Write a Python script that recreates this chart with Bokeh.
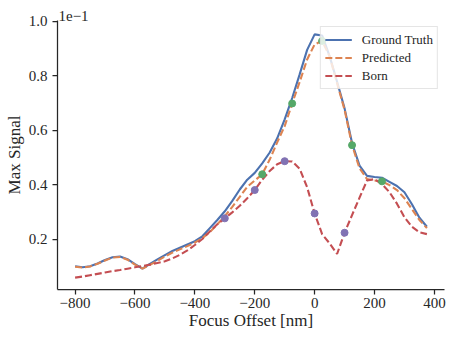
from bokeh.plotting import figure
from bokeh.models import Range1d, FixedTicker, Legend, LegendItem, Title
from bokeh.embed import file_html
from bokeh.resources import INLINE

# ---------------- data ----------------
focus_offset = [-800, -775, -750, -725, -700, -675, -650, -625, -600, -575,
                -550, -525, -500, -475, -450, -425, -400, -375, -350, -325,
                -300, -275, -250, -225, -200, -175, -150, -125, -100, -75,
                -50, -25, 0, 25, 50, 75, 100, 125, 150, 175,
                200, 225, 250, 275, 300, 325, 350, 375]

ground_truth = [0.100, 0.096, 0.100, 0.110, 0.123, 0.133, 0.136, 0.126, 0.108, 0.091,
                0.109, 0.125, 0.141, 0.156, 0.168, 0.180, 0.192, 0.210, 0.240, 0.270,
                0.302, 0.340, 0.382, 0.418, 0.443, 0.478, 0.518, 0.570, 0.640, 0.718,
                0.805, 0.895, 0.952, 0.948, 0.872, 0.778, 0.680, 0.553, 0.470, 0.432,
                0.428, 0.425, 0.410, 0.395, 0.372, 0.328, 0.278, 0.245]

predicted = [0.098, 0.095, 0.099, 0.109, 0.121, 0.132, 0.134, 0.124, 0.106, 0.091,
             0.105, 0.120, 0.136, 0.150, 0.162, 0.174, 0.187, 0.203, 0.226, 0.254,
             0.284, 0.318, 0.355, 0.392, 0.415, 0.438, 0.492, 0.555, 0.615, 0.698,
             0.777, 0.860, 0.915, 0.928, 0.872, 0.772, 0.675, 0.545, 0.460, 0.420,
             0.415, 0.412, 0.398, 0.380, 0.350, 0.310, 0.270, 0.240]

born = [0.058, 0.062, 0.067, 0.072, 0.077, 0.082, 0.086, 0.091, 0.096, 0.101,
        0.106, 0.112, 0.118, 0.129, 0.142, 0.158, 0.178, 0.200, 0.228, 0.254,
        0.276, 0.298, 0.322, 0.350, 0.380, 0.418, 0.450, 0.475, 0.486, 0.485,
        0.458, 0.390, 0.294, 0.218, 0.184, 0.145, 0.223, 0.288, 0.352, 0.415,
        0.420, 0.402, 0.372, 0.330, 0.280, 0.245, 0.225, 0.218]

green_x = [-175, -75, 25, 125, 225]     # samples on Predicted
purple_x = [-300, -200, -100, 0, 100]   # samples on Born

x_ticks = [-800, -600, -400, -200, 0, 200, 400]
x_tick_labels = ["\u2212800", "\u2212600", "\u2212400", "\u2212200", "0", "200", "400"]
y_ticks = [0.2, 0.4, 0.6, 0.8, 1.0]
y_tick_labels = ["0.2", "0.4", "0.6", "0.8", "1.0"]

series_labels = ["Ground Truth", "Predicted", "Born"]
offset_text = "1e\u22121"
x_title = "Focus Offset [nm]"
y_title = "Max Signal"

# ---------------- derived marker positions ----------------
green_y = [predicted[focus_offset.index(v)] for v in green_x]
purple_y = [born[focus_offset.index(v)] for v in purple_x]

# ---------------- figure ----------------
FONT = "Liberation Serif"
INK = "#262626"

x_pad = (max(focus_offset) - min(focus_offset)) * 0.05
x0, x1 = min(focus_offset) - x_pad, max(focus_offset) + x_pad
y0, y1 = 0.0145, 1.003

p = figure(width=453, height=339, output_backend="svg", toolbar_location=None,
           x_range=Range1d(x0, x1), y_range=Range1d(y0, y1),
           min_border_left=57, min_border_right=9, min_border_top=20,
           min_border_bottom=50)
p.outline_line_color = None
p.grid.visible = False
p.background_fill_color = "white"
p.border_fill_color = "white"

# offset text ("1e−1") above the y axis, as a left-aligned title
p.title = Title(text=offset_text, align="left", offset=1, standoff=0,
                text_font=FONT, text_font_size="15px", text_font_style="normal",
                text_color=INK)

p.xaxis.ticker = FixedTicker(ticks=x_ticks)
p.xaxis.major_label_overrides = {t: l for t, l in zip(x_ticks, x_tick_labels)}
p.yaxis.ticker = FixedTicker(ticks=y_ticks)
p.yaxis.major_label_overrides = {t: l for t, l in zip(y_ticks, y_tick_labels)}

for ax in p.axis:
    ax.axis_line_color = INK
    ax.axis_line_width = 1.25
    ax.major_tick_line_color = INK
    ax.major_tick_line_width = 1.25
    ax.major_tick_out = 5
    ax.major_tick_in = 0
    ax.minor_tick_out = 0
    ax.minor_tick_in = 0
    ax.major_label_text_font = FONT
    ax.major_label_text_font_size = "15px"
    ax.major_label_text_color = INK
    ax.axis_label_text_font = FONT
    ax.axis_label_text_font_size = "17px"
    ax.axis_label_text_font_style = "normal"
    ax.axis_label_text_color = INK

p.xaxis.major_label_standoff = 3
p.xaxis.axis_label_standoff = 0
p.yaxis.major_label_standoff = 5
p.yaxis.axis_label_standoff = 2

p.xaxis.axis_label = x_title
p.yaxis.axis_label = y_title

r_gt = p.line(focus_offset, ground_truth, line_color="#4C72B0", line_width=2.1)
r_pr = p.line(focus_offset, predicted, line_color="#DD8452", line_width=2.1, line_dash="7 3")
r_bo = p.line(focus_offset, born, line_color="#C44E52", line_width=2.1, line_dash="7 3")

p.scatter(green_x, green_y, size=7, fill_color="#55A868", line_color="#55A868")
p.scatter(purple_x, purple_y, size=7, fill_color="#8172B3", line_color="#8172B3")

legend = Legend(items=[LegendItem(label=series_labels[0], renderers=[r_gt]),
                       LegendItem(label=series_labels[1], renderers=[r_pr]),
                       LegendItem(label=series_labels[2], renderers=[r_bo])],
                location="top_right")
legend.margin = 6
legend.padding = 4
legend.spacing = 1
legend.glyph_width = 27
legend.glyph_height = 17
legend.label_height = 17
legend.label_standoff = 10
legend.label_text_font = FONT
legend.label_text_font_size = "13px"
legend.label_text_color = INK
legend.background_fill_color = "white"
legend.background_fill_alpha = 0.8
legend.border_line_color = "#cccccc"
legend.border_line_width = 1
p.add_layout(legend)

open("out.html", "w").write(file_html(p, INLINE))
